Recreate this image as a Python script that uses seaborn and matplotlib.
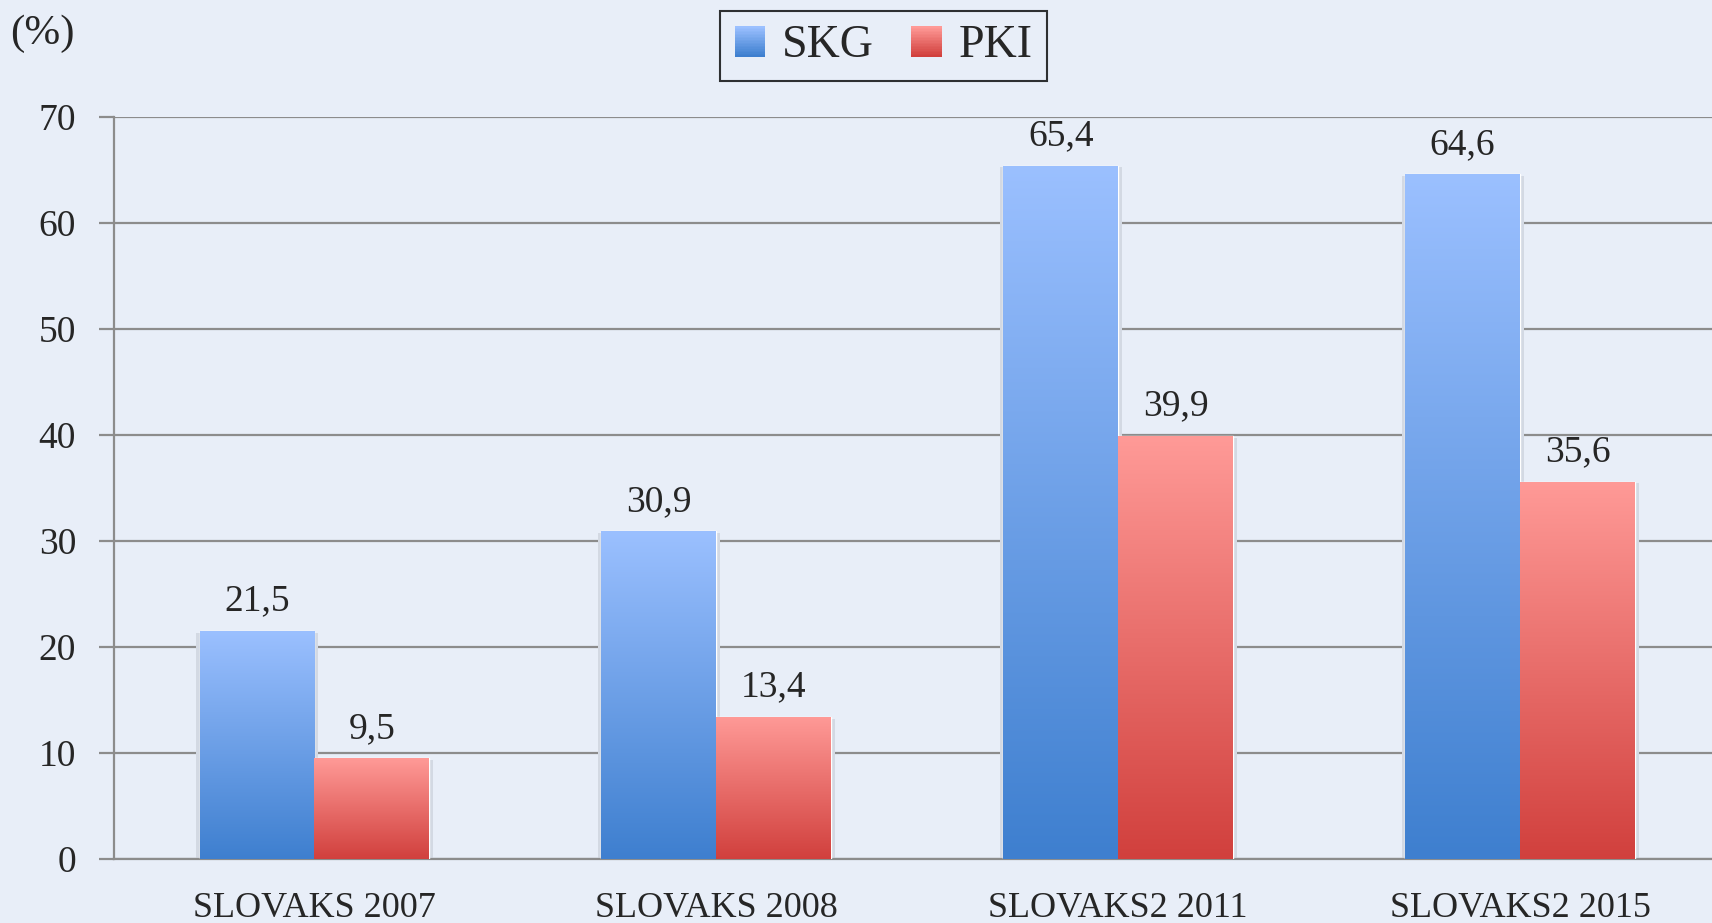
import seaborn as sns
import matplotlib.pyplot as plt
import pandas as pd
import numpy as np
from matplotlib.colors import LinearSegmentedColormap
from matplotlib.patches import Rectangle
from matplotlib.legend_handler import HandlerBase

# datos
estudios = ["SLOVAKS 2007", "SLOVAKS 2008", "SLOVAKS2 2011", "SLOVAKS2 2015"]
skg = [21.5, 30.9, 65.4, 64.6]
pki = [9.5, 13.4, 39.9, 35.6]
series = ["SKG", "PKI"]

fondo = "#E8EEF8"
gris = "#8C8C8C"
degradados = {
    "SKG": ("#9BC0FF", "#3E7FCF"),
    "PKI": ("#FF9A97", "#D1403D"),
}

df = pd.DataFrame({
    "estudio": estudios * 2,
    "valor": skg + pki,
    "serie": ["SKG"] * len(skg) + ["PKI"] * len(pki),
})

sns.set_style("white")
plt.rcParams["font.family"] = ["Liberation Serif", "DejaVu Serif"]

fig = plt.figure(figsize=(17.12, 9.23), dpi=100, facecolor=fondo)
ax = fig.add_axes([0.0663, 0.0693, 0.939, 0.804])
ax.set_facecolor(fondo)

sns.barplot(data=df, x="estudio", y="valor", hue="serie", hue_order=series,
            width=0.572, ax=ax, legend=False, zorder=3,
            palette={s: degradados[s][1] for s in series})

# barras con degradado
grad = np.linspace(1, 0, 256).reshape(-1, 1)
for i, s in enumerate(series):
    cmap = LinearSegmentedColormap.from_list(s, [degradados[s][1], degradados[s][0]])
    for p in ax.patches[i * len(estudios):(i + 1) * len(estudios)]:
        x0, y0 = p.get_x(), p.get_y()
        w, h = p.get_width(), p.get_height()
        sombra = Rectangle((x0 - 0.009, y0 - 0.25), w + 0.018, h + 0.1,
                           facecolor="#D3D9E3", edgecolor="none", zorder=2)
        ax.add_patch(sombra)
        im = ax.imshow(grad, cmap=cmap, aspect="auto", extent=[x0, x0 + w, y0, y0 + h],
                       zorder=3, interpolation="bicubic")
        im.set_clip_path(p)
        p.set_facecolor("none")
        ax.annotate(f"{h:.1f}".replace(".", ","), (x0 + w / 2, h),
                    xytext=(0, 9), textcoords="offset points",
                    ha="center", va="bottom", fontsize=27, zorder=5)

ax.set_xlim(-0.5, 3.5)
ax.set_ylim(0, 70)
ax.set_yticks(range(0, 71, 10))
ax.set_xlabel("")
ax.set_ylabel("")
ax.yaxis.grid(True, color=gris, lw=1.6, zorder=0)
ax.set_axisbelow(True)
for lado in ["top", "right"]:
    ax.spines[lado].set_visible(False)
for lado in ["left", "bottom"]:
    ax.spines[lado].set_color(gris)
    ax.spines[lado].set_linewidth(1.6)
ax.set_xticks(np.arange(-0.5, 3.6, 1), minor=True)
ax.tick_params(axis="x", which="major", length=0, labelsize=26, pad=24)
ax.tick_params(axis="x", which="minor", length=11, width=1.6, color=gris, direction="out")
ax.tick_params(axis="y", length=11, width=1.6, color=gris, direction="out",
               labelsize=27, pad=16, left=True)

fig.text(0.006, 0.963, "(%)", fontsize=31, va="center", ha="left")


# leyenda con cuadritos en degradado
class HandlerDegradado(HandlerBase):
    def create_artists(self, legend, orig_handle, xdescent, ydescent, width, height, fontsize, trans):
        arriba, abajo = degradados[orig_handle.get_label()]
        cmap = LinearSegmentedColormap.from_list("l", [abajo, arriba])
        lado = height * 0.95
        x0 = -xdescent + (width - lado) / 2
        y0 = -ydescent + (height - lado) / 2
        n = 20
        arts = []
        for k in range(n):
            r = Rectangle((x0, y0 + lado * k / n), lado, lado / n + 0.3,
                          facecolor=cmap(k / (n - 1)), edgecolor="none", transform=trans)
            arts.append(r)
        return arts


manijas = [Rectangle((0, 0), 1, 1, label=s) for s in series]
leg = fig.legend(handles=manijas, labels=series, loc="center", bbox_to_anchor=(0.516, 0.95),
                 ncol=2, fontsize=33, frameon=True, fancybox=False, handlelength=0.7,
                 handletextpad=0.35, columnspacing=0.8, borderpad=0.3,
                 handler_map={Rectangle: HandlerDegradado()})
leg.get_frame().set_edgecolor("black")
leg.get_frame().set_linewidth(1.5)
leg.get_frame().set_facecolor(fondo)

plt.savefig("out.png", dpi=100, facecolor=fondo)
